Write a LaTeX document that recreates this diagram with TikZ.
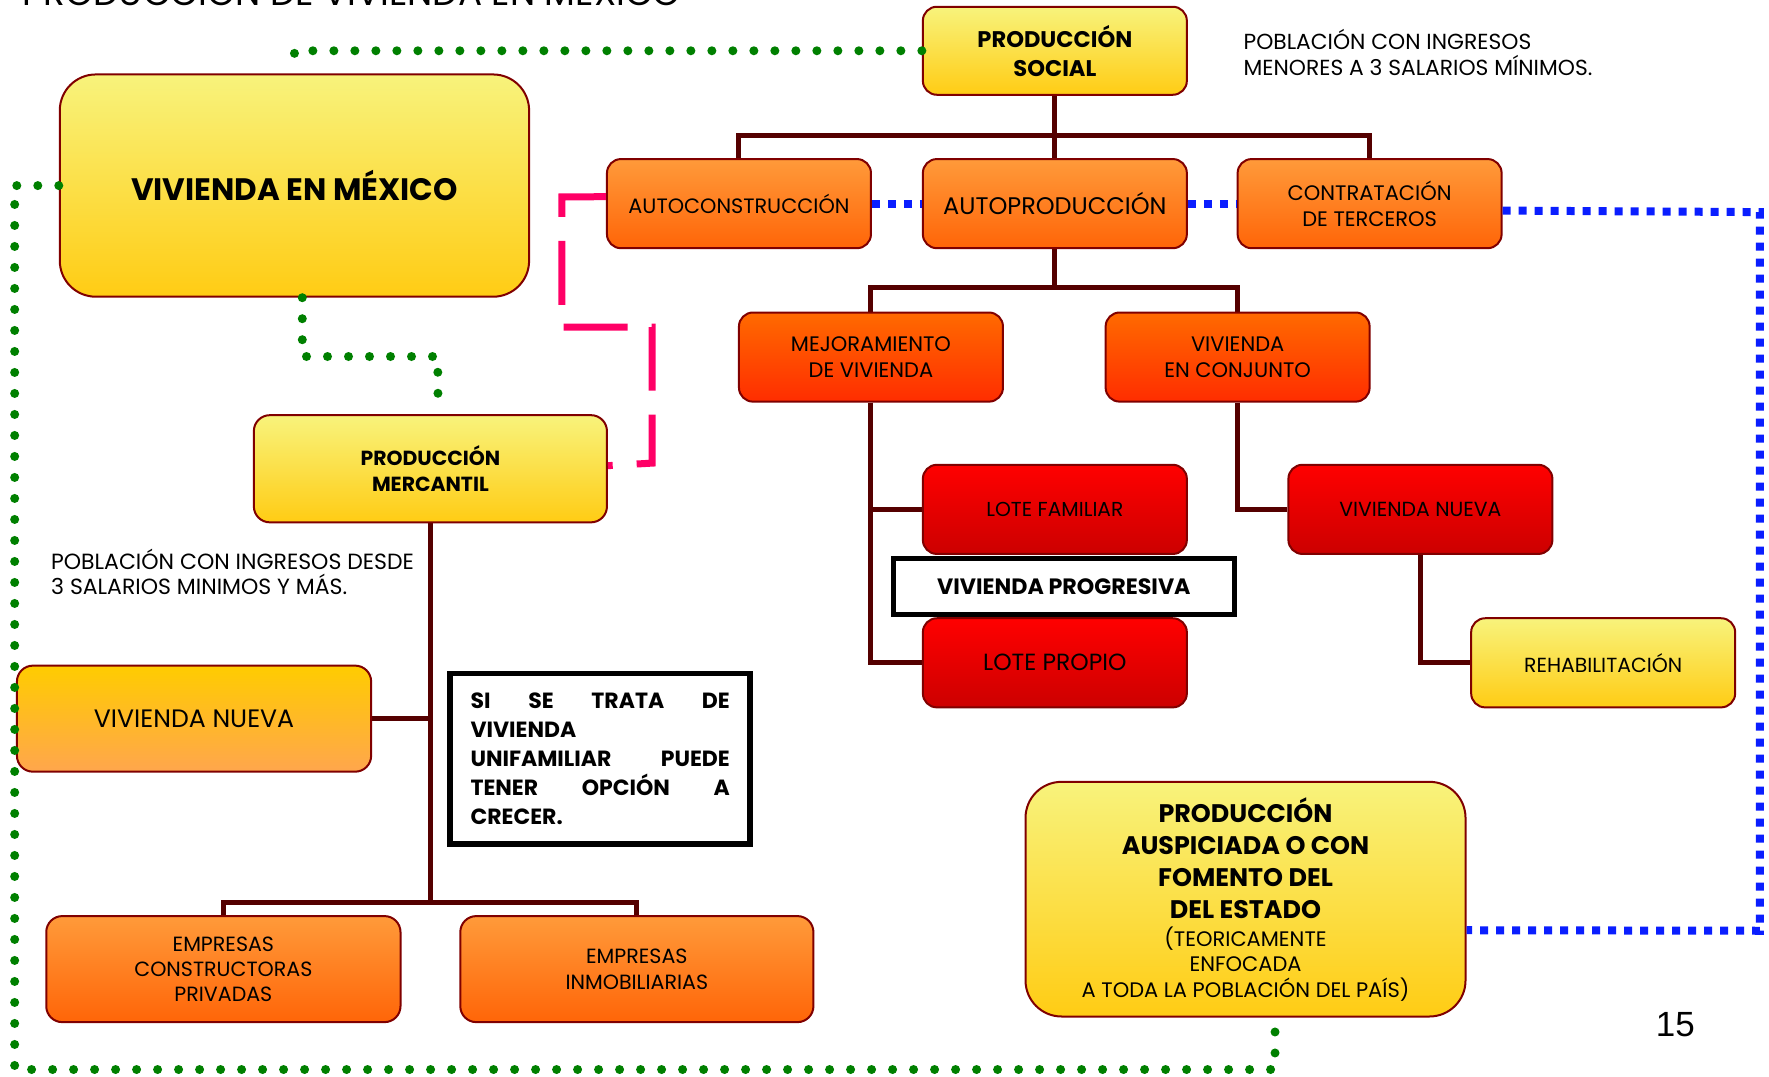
\documentclass[tikz,border=0pt]{standalone}
\usepackage{fontspec}
\setmainfont{Poppins}
\newfontfamily\numfont{Liberation Sans}
\usetikzlibrary{backgrounds}
\definecolor{bordc}{RGB}{128,0,0}
\definecolor{connc}{RGB}{85,0,0}
\definecolor{ylwT}{RGB}{248,243,124}
\definecolor{ylwB}{RGB}{255,204,20}
\definecolor{orgT}{RGB}{255,154,58}
\definecolor{orgB}{RGB}{255,101,8}
\definecolor{rorT}{RGB}{255,106,0}
\definecolor{rorB}{RGB}{255,45,0}
\definecolor{redT}{RGB}{255,0,0}
\definecolor{redB}{RGB}{204,0,0}
\definecolor{goldT}{RGB}{255,204,0}
\definecolor{goldB}{RGB}{255,166,77}
\definecolor{gdotc}{RGB}{0,128,0}
\definecolor{bdotc}{RGB}{10,30,255}
\definecolor{pinkc}{RGB}{255,0,102}
\newcommand\regline{\mdseries\fontsize{10.5}{16}\selectfont}
\begin{document}
\begin{tikzpicture}[x=0.5641pt, y=-0.5641pt,
  box/.style={draw=bordc, line width=1pt, rounded corners=7pt, inner sep=0pt, align=center, text=black},
  bw/.style 2 args={minimum width=#1*0.5641pt, minimum height=#2*0.5641pt},
  yel/.style={box, top color=ylwT, bottom color=ylwB},
  org/.style={box, top color=orgT, bottom color=orgB},
  ror/.style={box, top color=rorT, bottom color=rorB},
  redb/.style={box, top color=redT, bottom color=redB},
  gold/.style={box, top color=goldT, bottom color=goldB},
  lbl/.style={font=\fontsize{10.5}{13}\selectfont},
  bld/.style={font=\fontsize{11.3}{14.7}\selectfont\bfseries},
  conn/.style={draw=connc, line width=2.5pt},
  gdot/.style={draw=gdotc, line width=4.5pt, line cap=round, dash pattern=on 0pt off 10.5pt},
  bdot/.style={draw=bdotc, line width=4pt, dash pattern=on 4pt off 4pt},
  pdash/.style={draw=pinkc, line width=3.5pt, dash pattern=on 32pt off 12pt},
  note/.style={draw=black, line width=2.5pt, fill=white, inner sep=0pt},
  plain/.style={inner sep=0pt, text=black}]
\useasboundingbox (0,0) rectangle (1568,954);

% title
\node[plain, anchor=base west, font=\fontsize{17.9}{20}\selectfont] (title) at (20,4.5) {PRODUCCIÓN DE VIVIENDA EN MÉXICO};

% boxes
\node[yel, bw={234}{78}, bld] (ps) at (935,45) {PRODUCCIÓN\\SOCIAL};
\node[yel, bw={416}{197}, rounded corners=18pt, font=\fontsize{15.5}{18}\selectfont\bfseries] (vem) at (261,164.5) {VIVIENDA EN MÉXICO};
\node[org, bw={234}{79}, font=\fontsize{10.4}{13}\selectfont] (acon) at (655,180.5) {AUTOCONSTRUCCIÓN};
\node[org, bw={234}{79}, font=\fontsize{12}{14}\selectfont] (apro) at (935,180.5) {AUTOPRODUCCIÓN};
\node[org, bw={234}{79}, lbl] (ctr) at (1214,180.5) {CONTRATACIÓN\\DE TERCEROS};
\node[ror, bw={234}{79}, lbl] (mej) at (772,316.5) {MEJORAMIENTO\\DE VIVIENDA};
\node[ror, bw={234}{79}, lbl] (vec) at (1097,316.5) {VIVIENDA\\EN CONJUNTO};
\node[redb, bw={234}{79}, font=\fontsize{10.1}{12}\selectfont] (lotef) at (935,451.5) {LOTE FAMILIAR};
\node[redb, bw={234}{79}, font=\fontsize{10.2}{12}\selectfont] (vnr) at (1259,451.5) {VIVIENDA NUEVA};
\node[note, bw={302}{50}, font=\fontsize{11.1}{13}\selectfont\bfseries] (vp) at (943,520) {VIVIENDA PROGRESIVA};
\node[redb, bw={234}{79}, font=\fontsize{11.7}{14}\selectfont] (lotep) at (935,587.5) {LOTE PROPIO};
\node[yel, bw={234}{79}, font=\fontsize{10.2}{12}\selectfont] (reh) at (1421,587.5) {REHABILITACIÓN};
\node[yel, bw={313}{95}, rounded corners=8pt, font=\fontsize{10.2}{13.3}\selectfont\bfseries] (pm) at (381.5,415.5) {PRODUCCIÓN\\MERCANTIL};
\node[gold, bw={314}{94}, rounded corners=8pt, font=\fontsize{12.6}{14}\selectfont] (vnl) at (172,637) {VIVIENDA NUEVA};
\node[note, line width=2.8pt, bw={266}{151}, text width=129.7pt, align=left, font=\fontsize{11}{14.4}\selectfont\bfseries] (si) at (532,672.5)
  {SI\hfill SE\hfill TRATA\hfill DE\\VIVIENDA\\UNIFAMILIAR\hfill PUEDE\\TENER\hfill OPCIÓN\hfill A\\CRECER.};
\node[org, bw={314}{94}, rounded corners=8pt, font=\fontsize{10.3}{12.4}\selectfont] (ec) at (198,859) {EMPRESAS\\CONSTRUCTORAS\\PRIVADAS};
\node[org, bw={313}{94}, rounded corners=8pt, font=\fontsize{10.3}{12.8}\selectfont] (ei) at (564.5,859) {EMPRESAS\\INMOBILIARIAS};
\node[yel, bw={390}{208}, rounded corners=18pt, font=\fontsize{12.7}{16}\selectfont\bfseries] (ausp) at (1104,797)
  {PRODUCCIÓN\\AUSPICIADA O CON\\FOMENTO DEL\\DEL ESTADO\\[-2pt]{\regline (TEORICAMENTE}\\[-3.3pt]{\regline ENFOCADA}\\[-3.3pt]{\regline A TODA LA POBLACIÓN DEL PAÍS)}};

% free texts
\node[plain, anchor=west, align=left, font=\fontsize{10.9}{13}\selectfont] (t1) at (1102,46.5) {POBLACIÓN CON INGRESOS\\MENORES A 3 SALARIOS MÍNIMOS.};
\node[plain, anchor=west, align=left, font=\fontsize{11}{12.4}\selectfont] (t2) at (45,507) {POBLACIÓN CON INGRESOS DESDE\\3 SALARIOS MINIMOS Y MÁS.};
\node[plain, font=\numfont\fontsize{17.5}{20}\selectfont] (pg) at (1485,908) {15};

% junction coordinates
\coordinate (j1) at (935,120);
\coordinate (j2) at (935,255);
\coordinate (j3) at (381.5,800);

\begin{scope}[on background layer]
\fill[white] (0,0) rectangle (1568,954);
\draw[conn] (ps.south) -- (apro.north);
\draw[conn] (acon.north) |- (j1) -| (ctr.north);
\draw[conn] (apro.south) -- (j2);
\draw[conn] (mej.north) |- (j2) -| (vec.north);
\draw[conn] (mej.south) |- (lotef.west);
\draw[conn] (mej.south) |- (lotep.west);
\draw[conn] (vec.south) |- (vnr.west);
\draw[conn] (vnr.south) |- (reh.west);
\draw[conn] (pm.south) -- (j3);
\draw[conn] (vnl.east) -- (vnl.east -| pm.south);
\draw[conn] (ec.north) |- (j3) -| (ei.north);
\end{scope}

% green dotted
\coordinate (g1) at (261,45);
\coordinate (g3) at (13,948);
\coordinate (g4) at (388,316);
\draw[gdot] (ps.west) -- (g1) -- (vem.north);
\draw[gdot] (vem.west) -| (g3) -| (ausp.-76);
\draw[gdot] (vem.-86.5) |- (g4) -- (pm.82.2);

% pink dashed
\coordinate (p1) at (498,174.6);
\coordinate (p2) at (498,290);
\coordinate (p3) at (578,290);
\coordinate (p4) at (578,410.5);
\draw[pdash] (acon.177) -- (p1) -- (p2) -- (p3) -- (p4) -- (pm.1.8);

% blue dotted
\coordinate (b1) at (1560,188);
\coordinate (b2) at (1560,825);
\draw[bdot] (acon.east) -- (apro.west);
\draw[bdot] (apro.east) -- (ctr.west);
\draw[bdot] (ctr.-3.7) -- (b1) -- (b2) -- (ausp.-8.2);
\end{tikzpicture}
\end{document}
